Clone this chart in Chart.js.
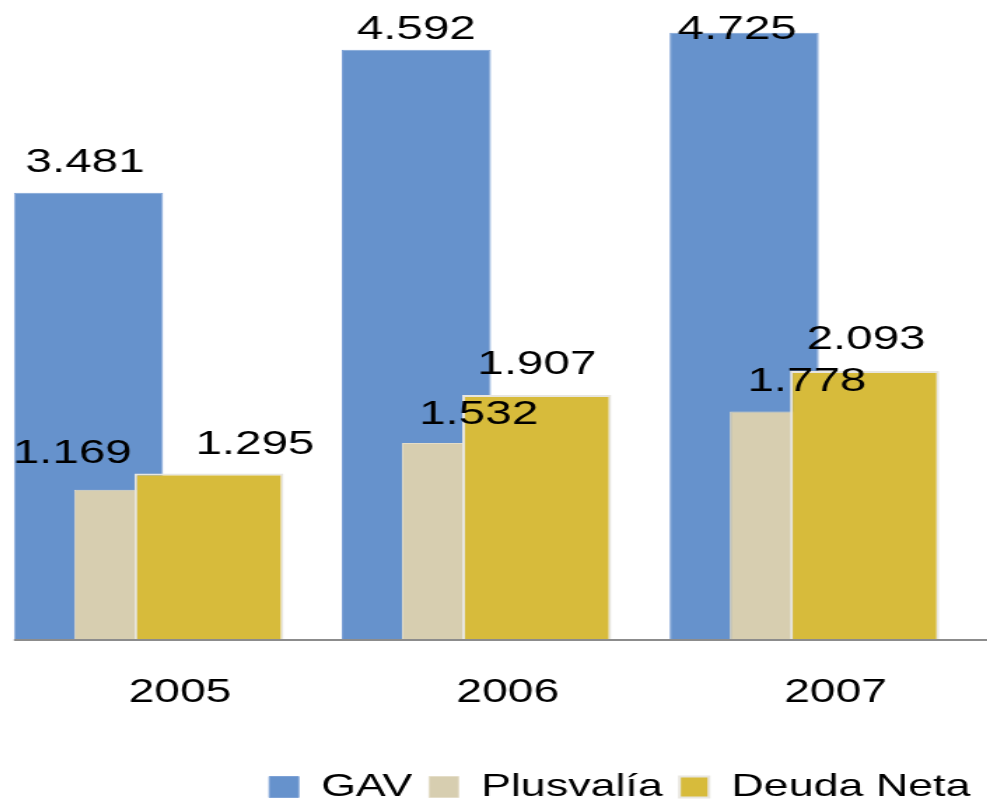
<!DOCTYPE html>
<html>
<head>
<meta charset="utf-8">
<script src="https://cdn.jsdelivr.net/npm/chart.js@4.4.1/dist/chart.umd.min.js"></script>
<style>
  html, body { margin: 0; padding: 0; background: #fff; overflow: hidden; }
  /* the reference is stretched sideways, so draw narrow and widen;
     the first category sits partly off the left edge */
  #wrap {
    width: 716px;
    height: 803px;
    transform: translateX(-15.2px) scaleX(1.4);
    transform-origin: 0 0;
  }
</style>
</head>
<body>
<div id="wrap"><canvas id="chart"></canvas></div>
<script>
// Values (millones de euros)
const years = ['2005', '2006', '2007'];
const seriesNames = ['GAV', 'Plusvalía', 'Deuda Neta'];
const gav = [3481, 4592, 4725];
const plusvalia = [1169, 1532, 1778];
const deudaNeta = [1295, 1907, 2093];

// Small hand moves of some value labels, as in the original [dx, dy]
const labelNudge = [
  [[-2.5, 0], [0, 10], [-5, 27]],
  [[-54.6, -6], [1.5, 2], [1.8, 0]],
  [[32.9, 1], [0, 0], [1, -1]],
];

const FONT = "'Liberation Sans', Arial, sans-serif";

function formatEs(v) {
  return String(v).replace(/\B(?=(\d{3})+(?!\d))/g, '.');
}

// Bars drawn first-to-last so later series sit on top, then axis line and labels
const overlapDraw = {
  id: 'overlapDraw',
  beforeDatasetsDraw(chart) {
    const ctx = chart.ctx;
    chart.data.datasets.forEach((ds, i) => chart.getDatasetMeta(i).controller.draw());

    const y0 = chart.scales.y.getPixelForValue(0);
    const first = chart.getDatasetMeta(0).data[0];
    ctx.save();
    ctx.strokeStyle = '#8c8c8c';
    ctx.lineWidth = 2;
    ctx.beginPath();
    ctx.moveTo(first.x - first.width / 2, y0);
    ctx.lineTo(chart.width, y0);
    ctx.stroke();

    ctx.fillStyle = '#000';
    ctx.font = '34px ' + FONT;
    ctx.textAlign = 'center';
    ctx.textBaseline = 'alphabetic';
    chart.data.datasets.forEach((ds, i) => {
      chart.getDatasetMeta(i).data.forEach((bar, j) => {
        const [dx, dy] = labelNudge[i][j];
        ctx.fillText(formatEs(ds.data[j]), bar.x + dx, bar.y - 21 + dy);
      });
    });
    ctx.restore();
    return false;
  },
};

const barShape = { categoryPercentage: 0.551, barPercentage: 2.477 };

new Chart(document.getElementById('chart'), {
  type: 'bar',
  data: {
    labels: years,
    datasets: [
      {
        label: seriesNames[0],
        data: gav,
        backgroundColor: '#6692cc',
        borderColor: '#7ea2d6',
        borderWidth: 1,
        ...barShape,
      },
      {
        label: seriesNames[1],
        data: plusvalia,
        backgroundColor: '#d7ceb0',
        borderColor: '#e4ddc8',
        borderWidth: 1,
        ...barShape,
      },
      {
        label: seriesNames[2],
        data: deudaNeta,
        backgroundColor: '#d7bb3b',
        borderColor: '#e8e6e0',
        borderWidth: 2,
        ...barShape,
      },
    ],
  },
  options: {
    responsive: true,
    maintainAspectRatio: false,
    animation: false,
    events: [],
    layout: { padding: { top: 0, left: 0, right: 0, bottom: -10 } },
    scales: {
      x: {
        grid: { display: false, drawTicks: false },
        border: { display: false },
        ticks: {
          color: '#000',
          font: { family: FONT, size: 33 },
          labelOffset: 22.3,
          padding: 33.5,
        },
        afterFit: (scale) => { scale.height = 119; },
      },
      y: {
        position: 'right',
        min: 0,
        max: 4980,
        grid: { display: false },
        border: { display: false },
        ticks: { display: false },
        afterFit: (scale) => { scale.width = 13.5; },
      },
    },
    plugins: {
      tooltip: { enabled: false },
      legend: {
        position: 'bottom',
        align: 'end',
        labels: {
          color: '#000',
          font: { family: FONT, size: 32 },
          boxWidth: 21,
          boxHeight: 21,
          padding: 12,
        },
      },
    },
  },
  plugins: [overlapDraw],
});
</script>
</body>
</html>
